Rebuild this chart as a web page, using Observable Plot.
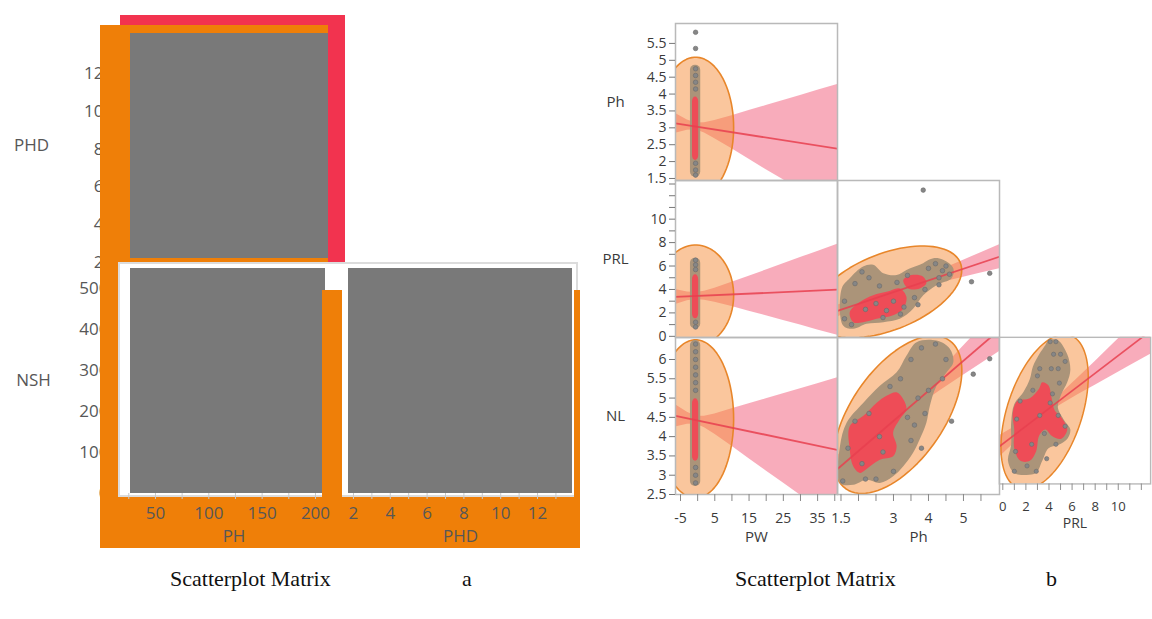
<!DOCTYPE html>
<html><head><meta charset="utf-8">
<script src="https://cdn.jsdelivr.net/npm/d3@7"></script>
<script src="https://cdn.jsdelivr.net/npm/@observablehq/plot@0.6"></script>
<style>
html,body{margin:0;padding:0;background:#fff;overflow:hidden}
#wrap{position:relative;width:1152px;height:619px;overflow:hidden;background:#fff}
#wrap svg{overflow:visible;background:transparent;display:block}
.cap{position:absolute;top:566px;font-family:"Liberation Serif","Times New Roman",serif;font-size:22px;color:#111;white-space:nowrap}
</style></head>
<body><div id="wrap"></div>
<script>
// ---------------- Panel a data ----------------
const phTicks = [25, 50, 75, 100, 125, 150, 175, 200];
const phLabels = [50, 100, 150, 200];
const phdXTicks = [2, 3, 4, 5, 6, 7, 8, 9, 10, 11, 12, 13];
const phdXLabels = [2, 4, 6, 8, 10, 12];
const phdYLabels = [2, 4, 6, 8, 10, 12];
const nshLabels = [0, 100, 200, 300, 400, 500];
const aFills = [
  {row: "PHD", col: "PH", x1: 26.6, x2: 212.2, y1: 2.21, y2: 14.12},
  {row: "NSH", col: "PH", x1: 26.6, x2: 209.4, y1: 0, y2: 549},
  {row: "NSH", col: "PHD", x1: 1.73, x2: 13.9, y1: 0, y2: 549}
];

// ---------------- Panel b data ----------------
const colVars = ["PW", "Ph", "PRL"];
const rowVars = ["Ph", "PRL", "NL"];
const pwDomain = [-6.46, 40.8];
const phXDomain = [1.40, 6.03];
const prlXDomain = [-0.3, 12.8];
const phYDomain = [1.44, 6.09];
const prlYDomain = [-0.1, 13.3];
const nlYDomain = [2.5, 6.57];
const pwTicks = [-5, 0, 5, 10, 15, 20, 25, 30, 35, 40];
const pwLabels = [-5, 5, 15, 25, 35];
const phXTicks = [1.5, 2, 2.5, 3, 3.5, 4, 4.5, 5, 5.5];
const phXLabels = [1.5, 3, 4, 5];
const prlXTicks = [0, 1, 2, 3, 4, 5, 6, 7, 8, 9, 10, 11, 12];
const prlXLabels = [0, 2, 4, 6, 8, 10];
const phYTicks = [1.5, 2, 2.5, 3, 3.5, 4, 4.5, 5, 5.5];
const prlYTicks = [0, 1, 2, 3, 4, 5, 6, 7, 8, 9, 10, 11, 12, 13];
const prlYLabels = [0, 2, 4, 6, 8, 10];
const nlYTicks = [2.5, 3, 3.5, 4, 4.5, 5, 5.5, 6];

// density ellipses: centre and two conjugate semi-axes (data units)
const ellipses = [
  {cell: "Ph|PW", cx: -0.6, cy: 3.01, ux: 11.1, uy: 0, vx: 0, vy: 2.08},
  {cell: "PRL|PW", cx: -0.6, cy: 3.5, ux: 11.1, uy: 0, vx: 0, vy: 4.3},
  {cell: "NL|PW", cx: -0.6, cy: 4.46, ux: 11.1, uy: 0, vx: 0, vy: 2.05},
  {cell: "PRL|Ph", cx: 2.82, cy: 3.79, ux: 2.13, uy: 1.86, vx: 0, vy: 3.45},
  {cell: "NL|Ph", cx: 3.12, cy: 4.57, ux: 1.834, uy: 1.141, vx: 0, vy: 1.697},
  {cell: "NL|PRL", cx: 3.62, cy: 4.50, ux: 3.78, uy: 0.977, vx: 0, vy: 1.92}
];

// fit lines
const fitLines = [
  {cell: "Ph|PW", x1: -6.46, y1: 3.133, x2: 40.8, y2: 2.38},
  {cell: "PRL|PW", x1: -6.46, y1: 3.36, x2: 40.8, y2: 3.98},
  {cell: "NL|PW", x1: -6.46, y1: 4.54, x2: 40.8, y2: 3.655},
  {cell: "PRL|Ph", x1: 1.4, y1: 2.17, x2: 6.03, y2: 6.80},
  {cell: "NL|Ph", x1: 1.4, y1: 3.16, x2: 6.03, y2: 6.77},
  {cell: "NL|PRL", x1: -0.3, y1: 3.54, x2: 12.8, y2: 6.75}
];

// confidence bands [x, lo, hi]
const bandPhPW = [[-6.5,2.84,3.43],[-3,2.93,3.23],[-0.5,2.94,3.14],[2,2.85,3.15],[5,2.68,3.22],[10,2.38,3.36],[15,2.07,3.51],[20,1.76,3.66],[25,1.46,3.81],[30,1.15,3.96],[35,0.84,4.11],[41,0.47,4.29]];
const bandPRLPW = [[-6.5,2.72,4.0],[-3,3.03,3.79],[-0.5,3.14,3.74],[2,3.09,3.85],[5,2.91,4.11],[10,2.55,4.61],[15,2.15,5.13],[20,1.76,5.66],[25,1.35,6.19],[30,0.96,6.72],[35,0.55,7.25],[41,0.07,7.89]];
const bandNLPW = [[-6.5,4.25,4.83],[-3,4.32,4.63],[-0.5,4.33,4.53],[2,4.23,4.53],[5,4.06,4.59],[10,3.75,4.72],[15,3.43,4.85],[20,3.11,4.98],[25,2.80,5.11],[30,2.48,5.24],[35,2.16,5.37],[41,1.77,5.53]];
const bandPRLPh = [[1.4,1.66,2.68],[2.0,2.41,3.13],[2.82,3.34,3.84],[3.5,3.94,4.60],[4.0,4.33,5.21],[4.5,4.69,5.85],[5.0,5.05,6.49],[5.5,5.40,7.14],[6.05,5.79,7.85]];
const bandNLPh = [[1.4,2.81,3.51],[2.0,3.39,3.88],[2.5,3.85,4.19],[3.12,4.38,4.62],[3.7,4.79,5.11],[4.3,5.17,5.67],[4.9,5.53,6.25],[5.5,5.89,6.83],[6.05,6.22,7.36]];
const bandNLPRL = [[-0.3,3.24,3.84],[1,3.64,4.08],[2.3,4.03,4.33],[3.62,4.38,4.62],[5,4.69,4.99],[6.5,4.98,5.44],[8,5.24,5.90],[9.5,5.51,6.37],[11,5.78,6.84],[12.8,6.10,7.40]];

// density contour regions [x, y]
const greyPRLPh = [[1.52,4.08],[1.75,4.95],[2.13,5.95],[2.42,6.10],[2.71,5.38],[3.09,5.23],[3.37,5.67],[3.75,6.10],[4.14,6.67],[4.42,6.53],[4.71,5.81],[4.66,4.95],[4.23,4.37],[3.85,3.51],[3.56,2.36],[3.18,1.50],[2.71,1.21],[2.23,1.07],[1.85,0.64],[1.56,0.92]];
const redPRLPh1 = [[1.75,2.07],[2.04,2.94],[2.42,3.51],[2.80,3.80],[3.18,4.09],[3.37,3.37],[3.28,2.36],[2.99,1.79],[2.52,1.50],[2.13,1.21],[1.85,1.21]];
const redPRLPh2 = [[3.28,4.80],[3.52,5.23],[3.85,5.09],[3.94,4.52],[3.75,4.09],[3.42,4.09]];
const greyNLPh = [[1.47,2.80],[1.47,3.75],[1.66,4.36],[2.14,4.88],[2.61,5.32],[3.09,5.67],[3.37,6.10],[3.66,6.45],[4.23,6.49],[4.61,6.28],[4.71,5.93],[4.52,5.67],[4.23,5.32],[4.04,4.80],[3.94,4.36],[3.75,3.93],[3.56,3.58],[3.28,3.23],[2.99,2.97],[2.61,2.80],[2.23,2.88],[1.85,2.75]];
const redNLPh = [[1.75,4.27],[2.14,4.54],[2.52,4.88],[2.80,5.06],[3.09,5.15],[3.28,4.97],[3.37,4.71],[3.18,4.45],[2.99,4.10],[3.09,3.75],[2.99,3.49],[2.61,3.40],[2.33,3.23],[2.04,3.06],[1.85,3.23],[1.75,3.67]];
const greyNLPRL = [[3.96,6.49],[4.77,6.49],[5.58,6.10],[5.85,5.67],[5.58,5.32],[5.04,4.97],[4.77,4.62],[5.31,4.27],[5.85,4.01],[5.58,3.75],[4.77,3.58],[3.96,3.49],[3.42,3.14],[2.88,2.80],[2.07,2.75],[0.99,2.80],[0.45,3.14],[0.72,3.58],[0.72,4.19],[0.99,4.71],[1.80,5.06],[2.34,5.41],[2.61,5.76],[3.15,6.10],[3.69,6.36]];
const redNLPRL = [[1.26,4.80],[2.34,4.88],[3.15,5.15],[3.42,5.32],[3.96,5.23],[4.23,4.88],[4.50,4.54],[5.04,4.36],[5.58,4.01],[5.04,3.75],[4.23,3.84],[3.69,4.01],[3.15,3.84],[2.88,3.40],[2.34,3.14],[1.53,3.14],[0.99,3.49],[0.99,4.01],[0.86,4.45]];
const pwColumns = [
  {row: "Ph", layer: "grey", x1: -2.1, x2: 0.9, y1: 1.54, y2: 4.85},
  {row: "Ph", layer: "red", x1: -1.5, x2: 0.3, y1: 2.03, y2: 3.91},
  {row: "PRL", layer: "grey", x1: -2.1, x2: 0.9, y1: 0.63, y2: 6.66},
  {row: "PRL", layer: "red", x1: -1.5, x2: 0.3, y1: 1.49, y2: 5.26},
  {row: "NL", layer: "grey", x1: -2.1, x2: 0.9, y1: 2.71, y2: 6.49},
  {row: "NL", layer: "red", x1: -1.5, x2: 0.3, y1: 3.36, y2: 4.98}
];

// observations [x, y]
const dotsPhPW = [[-0.6,5.83],[-0.6,5.35],[-0.6,4.75],[-0.6,4.55],[-0.6,4.35],[-0.6,4.15],[-0.6,1.95],[-0.6,1.75],[-0.6,1.6]];
const dotsPRLPW = [[-0.6,6.5],[-0.6,6.1],[-0.6,5.7],[-0.6,1.2],[-0.6,0.8]];
const dotsNLPW = [[-0.6,6.4],[-0.6,6.2],[-0.6,6.0],[-0.6,5.8],[-0.6,5.6],[-0.6,5.4],[-0.6,5.2],[-0.6,3.2],[-0.6,3.0],[-0.6,2.8]];
const dotsPRLPh = [[1.6,3.0],[1.6,1.5],[1.9,4.5],[2.1,5.5],[2.3,5.0],[2.6,4.3],[2.7,1.6],[3.0,3.0],[3.3,2.5],[3.4,5.2],[3.6,3.3],[3.7,2.7],[3.9,4.0],[4.0,5.8],[4.2,6.2],[4.3,5.0],[4.5,6.0],[4.6,5.3],[4.3,4.4],[3.2,1.9],[2.2,2.3],[2.5,2.8],[2.8,2.2],[1.8,1.0],[3.1,4.6],[4.4,5.6],[3.85,12.48],[5.23,4.66],[5.75,5.38]];
const dotsNLPh = [[1.55,2.85],[1.7,3.7],[1.9,4.4],[2.1,3.3],[2.3,4.6],[2.5,2.9],[2.7,3.6],[2.9,5.3],[3.2,5.5],[3.4,4.5],[3.5,3.9],[3.6,4.3],[3.7,5.0],[3.8,3.7],[3.9,4.6],[4.0,5.2],[3.5,6.0],[3.8,6.3],[4.2,6.4],[4.5,6.0],[4.4,5.5],[2.6,4.0],[3.0,3.1],[2.2,2.9],[5.28,5.62],[5.75,6.02],[4.66,4.40]];
const dotsNLPRL = [[4.1,6.45],[4.6,6.45],[4.4,6.1],[5.0,6.1],[5.4,5.9],[3.2,5.7],[4.2,5.7],[4.8,5.7],[3.0,5.5],[4.9,5.3],[4.3,5.0],[2.6,5.1],[1.5,4.8],[4.8,4.4],[3.2,4.4],[1.2,4.3],[5.4,4.1],[3.6,3.9],[2.5,3.6],[4.6,3.6],[1.1,3.4],[3.8,3.2],[2.1,3.0],[1.0,2.85],[2.9,2.85],[4.1,4.75]];

// ---------------- layout helpers ----------------
const wrap = document.getElementById("wrap");
function addDiv(style, z) {
  const d = document.createElement("div");
  d.style.cssText = "position:absolute;" + style + ";z-index:" + z;
  wrap.appendChild(d);
  return d;
}
function place(svg, left, top, z) {
  addDiv(`left:${left}px;top:${top}px`, z).appendChild(svg);
}
const ORANGE = "#ef7f08";
const fmt = d => String(d);

// panel a backdrop (selection highlight of the original screenshot)
addDiv("left:120px;top:15px;width:225px;height:247px;background:#f2334f", 0);
addDiv(`left:100px;top:25px;width:228px;height:238px;background:${ORANGE}`, 0);
addDiv(`left:100px;top:496px;width:480px;height:52px;background:${ORANGE}`, 0);
addDiv("left:118px;top:262px;width:456px;height:231px;background:#fff;border:2px solid #dcdcdc", 0);
addDiv(`left:100px;top:25px;width:18px;height:523px;background:${ORANGE}`, 5);
addDiv(`left:322px;top:290px;width:20px;height:207px;background:${ORANGE}`, 5);
addDiv(`left:574px;top:290px;width:6px;height:207px;background:${ORANGE}`, 5);

// ---------------- panel a plots ----------------
function aPlot(f, fr, ml, mb, extra) {
  const mt = 4, mr = 4;
  const svg = Plot.plot({
    width: fr.r - fr.l + ml + mr, height: fr.b - fr.t + mt + mb,
    marginLeft: ml, marginRight: mr, marginTop: mt, marginBottom: mb,
    style: {background: "transparent", fontFamily: "'Open Sans', sans-serif", fontSize: "17px", color: "#575757", overflow: "visible"},
    x: {domain: [f.x1, f.x2], axis: null}, y: {domain: [f.y1, f.y2], axis: null},
    marks: [
      Plot.rect([f], {x1: "x1", x2: "x2", y1: "y1", y2: "y2", fill: "#797979"}),
      ...extra
    ]
  });
  place(svg, fr.l - ml, fr.t - mt, 2);
}
aPlot(aFills[0], {l: 130, r: 328, t: 33, b: 258}, 130, 10, [
  Plot.axisY({ticks: phdYLabels, tickSize: 0, tickPadding: 27, tickFormat: fmt, label: null}),
  Plot.text([aFills[0].row], {frameAnchor: "left", dx: -99, text: d => d, textAnchor: "middle"})
]);
aPlot(aFills[1], {l: 130, r: 325, t: 268, b: 493}, 130, 60, [
  Plot.axisY({ticks: nshLabels, tickSize: 0, tickPadding: 22, tickFormat: fmt, label: null}),
  Plot.axisX({ticks: phTicks, tickSize: 6, stroke: "#c9c9c9", tickFormat: () => "", label: null}),
  Plot.axisX({ticks: phLabels, tickSize: 0, tickPadding: 13, tickFormat: fmt, label: null}),
  Plot.text([aFills[1].row], {frameAnchor: "left", dx: -97, text: d => d, textAnchor: "middle"}),
  Plot.text([aFills[1].col], {frameAnchor: "bottom", dy: 48, dx: 6, text: d => d})
]);
aPlot(aFills[2], {l: 348, r: 572, t: 268, b: 493}, 4, 60, [
  Plot.axisX({ticks: phdXTicks, tickSize: 6, stroke: "#c9c9c9", tickFormat: () => "", label: null}),
  Plot.axisX({ticks: phdXLabels, tickSize: 0, tickPadding: 13, tickFormat: fmt, label: null}),
  Plot.text([aFills[2].col], {frameAnchor: "bottom", dy: 48, text: d => d})
]);

// ---------------- panel b plots ----------------
const colDomains = [pwDomain, phXDomain, prlXDomain];
const rowDomains = [phYDomain, prlYDomain, nlYDomain];
const colTicks = [pwTicks, phXTicks, prlXTicks];
const colLabels = [pwLabels, phXLabels, prlXLabels];
const rowTicks = [phYTicks, prlYTicks, nlYTicks];
const rowLabels = [phYTicks, prlYLabels, nlYTicks];
const bandsByCell = {"Ph|PW": bandPhPW, "PRL|PW": bandPRLPW, "NL|PW": bandNLPW, "PRL|Ph": bandPRLPh, "NL|Ph": bandNLPh, "NL|PRL": bandNLPRL};
const dotsByCell = {"Ph|PW": dotsPhPW, "PRL|PW": dotsPRLPW, "NL|PW": dotsNLPW, "PRL|Ph": dotsPRLPh, "NL|Ph": dotsNLPh, "NL|PRL": dotsNLPRL};
const greyByCell = {"PRL|Ph": [greyPRLPh], "NL|Ph": [greyNLPh], "NL|PRL": [greyNLPRL]};
const redByCell = {"PRL|Ph": [redPRLPh1, redPRLPh2], "NL|Ph": [redNLPh], "NL|PRL": [redNLPRL]};
const colLeft = [675, 837, 999], rowTop = [23, 180, 337], cellW = 162, cellH = [157, 157, 157];

function ellipsePath(e) {
  return d3.range(0, 91).map(i => {
    const t = i / 90 * 2 * Math.PI;
    return [e.cx + e.ux * Math.cos(t) + e.vx * Math.sin(t), e.cy + e.uy * Math.cos(t) + e.vy * Math.sin(t)];
  });
}

const cellsToDraw = [["Ph", "PW"], ["PRL", "PW"], ["PRL", "Ph"], ["NL", "PW"], ["NL", "Ph"], ["NL", "PRL"]];
for (const [row, col] of cellsToDraw) {
  const ri = rowVars.indexOf(row), ci = colVars.indexOf(col);
  const key = row + "|" + col;
  const ml = ci === 0 ? 92 : 2, mr = 2, mt = 2, mb = ri === 2 ? 62 : 2;
  const marks = [];
  marks.push(Plot.areaY(bandsByCell[key], {x: d => d[0], y1: d => d[1], y2: d => d[2], fill: "#f3748d", fillOpacity: 0.6, clip: true}));
  const e = ellipses.find(d => d.cell === key);
  marks.push(Plot.line(ellipsePath(e), {x: d => d[0], y: d => d[1], fill: "#f58d3c", fillOpacity: 0.5, stroke: "#e8862a", strokeWidth: 1.6, clip: true}));
  if (col === "PW") {
    const cols = pwColumns.filter(d => d.row === row);
    marks.push(Plot.rect(cols, {x1: "x1", x2: "x2", y1: "y1", y2: "y2", rx: 5, fill: d => d.layer === "grey" ? "#ab9479" : "#ee4c57", clip: true}));
  } else {
    for (const g of greyByCell[key]) marks.push(Plot.line(g, {x: d => d[0], y: d => d[1], curve: "catmull-rom-closed", fill: "#ab9479", stroke: "none", clip: true}));
    for (const r of redByCell[key]) marks.push(Plot.line(r, {x: d => d[0], y: d => d[1], curve: "catmull-rom-closed", fill: "#ee4c57", stroke: "none", clip: true}));
  }
  marks.push(Plot.link(fitLines.filter(d => d.cell === key), {x1: "x1", y1: "y1", x2: "x2", y2: "y2", stroke: "#e8404f", strokeWidth: 1.8, strokeOpacity: 0.85, clip: true}));
  marks.push(Plot.dot(dotsByCell[key], {x: d => d[0], y: d => d[1], r: 2.3, fill: "#868686", stroke: "#6a6a6a", strokeWidth: 0.6, clip: true}));
  marks.push(Plot.frame({stroke: "#b9b9b9", strokeWidth: 1.5}));
  if (ci === 0) {
    marks.push(Plot.axisY({ticks: rowTicks[ri], tickSize: 6, tickPadding: 3, tickFormat: d => rowLabels[ri].includes(d) ? String(d) : "", label: null, stroke: "#777"}));
    marks.push(Plot.text([row], {frameAnchor: "left", dx: -60, text: d => d, textAnchor: "middle", fontSize: 15}));
  }
  if (ri === 2) {
    marks.push(Plot.axisX({ticks: colTicks[ci], tickSize: 7, tickPadding: 12, tickFormat: d => colLabels[ci].includes(d) ? String(d) : "", label: null, stroke: "#888"}));
    marks.push(Plot.text([col], {frameAnchor: "bottom", dy: 47, text: d => d, fontSize: 15}));
  }
  const svg = Plot.plot({
    width: cellW + ml + mr, height: cellH[ri] + mt + mb,
    marginLeft: ml, marginRight: mr, marginTop: mt, marginBottom: mb,
    style: {background: "transparent", fontFamily: "'Open Sans', sans-serif", fontSize: "14px", color: "#3a3a3a", overflow: "visible"},
    x: {domain: colDomains[ci], axis: null}, y: {domain: rowDomains[ri], axis: null},
    marks
  });
  place(svg, colLeft[ci] - ml, rowTop[ri] - mt, 3);
}

// captions
const captions = [
  {text: "Scatterplot Matrix", left: 170}, {text: "a", left: 462},
  {text: "Scatterplot Matrix", left: 735}, {text: "b", left: 1046}
];
for (const c of captions) {
  const d = addDiv(`left:${c.left}px`, 6);
  d.className = "cap";
  d.textContent = c.text;
}
</script>
</body></html>
